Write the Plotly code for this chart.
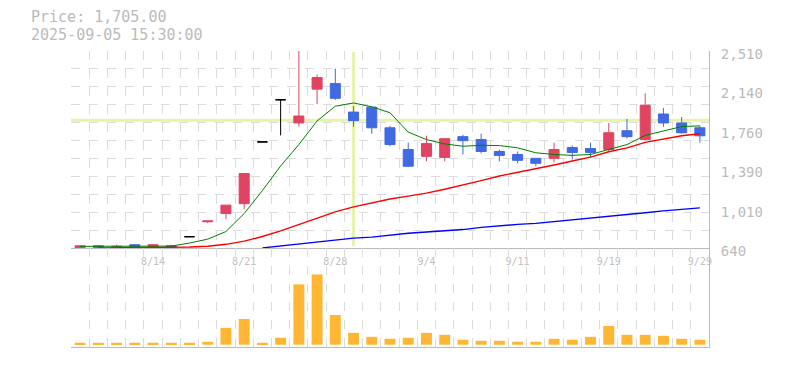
import plotly.graph_objects as go

# ---------------- data ----------------
dates = ["8/7", "8/8", "8/12", "8/13", "8/14", "8/15", "8/18", "8/19", "8/20", "8/21",
         "8/22", "8/25", "8/26", "8/27", "8/28", "8/29", "9/1", "9/2", "9/3", "9/4",
         "9/5", "9/8", "9/9", "9/10", "9/11", "9/12", "9/16", "9/17", "9/18", "9/19",
         "9/22", "9/24", "9/25", "9/26", "9/29"]
open_ = [643, 661, 646, 671, 652, 661, 747, 889, 967, 1061,
         1647, 2047, 1827, 2148, 2201, 1930, 1977, 1781, 1575, 1510,
         1500, 1697, 1669, 1556, 1528, 1491, 1491, 1594, 1584, 1575,
         1753, 1669, 1912, 1827, 1781]
high = [661, 663, 671, 673, 673, 671, 747, 897, 1047, 1347,
        1647, 2047, 2510, 2286, 2342, 1986, 1977, 1799, 1640, 1706,
        1678, 1715, 1725, 1575, 1556, 1491, 1640, 1612, 1640, 1827,
        1865, 2108, 1968, 1884, 1799]
low = [640, 641, 643, 650, 650, 641, 747, 878, 914, 1007,
       1647, 1709, 1793, 2005, 2045, 1790, 1725, 1606, 1407, 1463,
       1463, 1528, 1538, 1463, 1444, 1416, 1453, 1481, 1500, 1556,
       1678, 1659, 1790, 1725, 1640]
close = [661, 643, 656, 652, 671, 647, 747, 897, 1047, 1347,
         1647, 2047, 1893, 2258, 2061, 1849, 1781, 1622, 1416, 1631,
         1678, 1659, 1556, 1519, 1472, 1444, 1575, 1547, 1547, 1734,
         1697, 1996, 1827, 1734, 1705]
ma_short = [656, 655, 655, 657, 658, 658, 687, 724, 796, 967,
            1185, 1419, 1622, 1846, 1986, 2017, 1980, 1924, 1740, 1669,
            1628, 1606, 1615, 1612, 1591, 1544, 1528, 1519, 1528, 1575,
            1622, 1709, 1753, 1793, 1799]
ma_mid = [None, 640, 641, 643, 643, 646, 649, 656, 675, 705,
          749, 802, 864, 927, 983, 1030, 1067, 1105, 1133, 1161,
          1198, 1236, 1279, 1323, 1357, 1388, 1428, 1466, 1503, 1554,
          1591, 1643, 1675, 1706, 1725]
ma_long = [None, None, None, None, None, None, None, None, None, None,
           641, 659, 677, 693, 715, 734, 743, 762, 780, 792,
           805, 815, 836, 852, 864, 874, 890, 905, 923, 939,
           955, 974, 992, 1007, 1021]
volume = [20000, 20000, 20000, 20000, 20000, 20000, 20000, 30000, 170000, 260000,
          20000, 70000, 610000, 710000, 300000, 120000, 80000, 60000, 70000, 120000,
          100000, 50000, 40000, 40000, 30000, 30000, 60000, 50000, 80000, 190000,
          100000, 100000, 90000, 60000, 50000]

x_tick_idx = [4, 9, 14, 19, 24, 29, 34]
y_tick_vals = [640, 1014, 1388, 1762, 2136, 2510]
y_tick_text = ["640", "1,010", "1,390", "1,760", "2,140", "2,510"]
price_label = "Price: 1,705.00"
time_label = "2025-09-05 15:30:00"
cross_idx = 15
cross_price = 1853

# ---------------- figure ----------------
idx = list(range(len(dates)))
UP, DOWN = "#e04462", "#4169e1"
FONT = "DejaVu Sans Mono"

doji = [i for i in idx if open_[i] == close[i]]
norm = [i for i in idx if open_[i] != close[i]]

fig = go.Figure()

fig.add_trace(go.Bar(x=idx, y=volume, width=0.6, marker=dict(color="#ffb733", line=dict(width=0)),
                     xaxis="x2", yaxis="y2", hoverinfo="skip"))

fig.add_trace(go.Candlestick(
    x=[idx[i] for i in norm], open=[open_[i] for i in norm], high=[high[i] for i in norm],
    low=[low[i] for i in norm], close=[close[i] for i in norm],
    increasing=dict(line=dict(color=UP, width=1), fillcolor=UP),
    decreasing=dict(line=dict(color=DOWN, width=1), fillcolor=DOWN),
    whiskerwidth=0, xaxis="x", yaxis="y"))
fig.add_trace(go.Candlestick(
    x=[idx[i] for i in doji], open=[open_[i] for i in doji], high=[high[i] for i in doji],
    low=[low[i] for i in doji], close=[close[i] for i in doji],
    increasing=dict(line=dict(color="black", width=1), fillcolor="black"),
    decreasing=dict(line=dict(color="black", width=1), fillcolor="black"),
    whiskerwidth=0, xaxis="x", yaxis="y"))

fig.add_trace(go.Scatter(x=idx, y=ma_long, mode="lines", line=dict(color="#0000ff", width=1.4),
                         xaxis="x", yaxis="y", connectgaps=False))
fig.add_trace(go.Scatter(x=idx, y=ma_mid, mode="lines", line=dict(color="#ff0000", width=1.4),
                         xaxis="x", yaxis="y", connectgaps=False))
fig.add_trace(go.Scatter(x=idx, y=ma_short, mode="lines", line=dict(color="#008000", width=1),
                         xaxis="x", yaxis="y"))

grid_x = [i - 0.5 for i in range(len(dates) + 1)]
grid_y = [640 + 170 * k for k in range(12)]
xr = [-0.5, len(dates) - 0.5]
VOL_TOP = 100 / 299

common_x = dict(range=xr, showgrid=False, zeroline=False, fixedrange=True,
                minor=dict(tickmode="array", tickvals=grid_x, showgrid=True, griddash="dash",
                           gridcolor="#dcdcdc", gridwidth=1, ticks=""),
                showline=True, linecolor="#bbbbbb", linewidth=1)

fig.update_layout(
    width=777, height=362,
    margin=dict(l=63, r=76, t=43, b=20),
    paper_bgcolor="white", plot_bgcolor="white",
    showlegend=False, boxgap=0.45, boxgroupgap=0,
    xaxis=dict(domain=[0, 1], anchor="y", tickmode="array", tickvals=x_tick_idx,
               ticktext=[dates[i] for i in x_tick_idx], ticks="",
               tickfont=dict(family=FONT, size=10, color="#c0c0c0"),
               ticklabelstandoff=4, rangeslider=dict(visible=False), **common_x),
    xaxis2=dict(domain=[0, 1], anchor="y2", matches="x", showticklabels=False, ticks="",
                **common_x),
    yaxis=dict(domain=[VOL_TOP, 1], anchor="x", side="right", range=[640, 2510],
               tickmode="array", tickvals=y_tick_vals, ticktext=y_tick_text, ticks="",
               tickfont=dict(family=FONT, size=14, color="#bbbbbb"),
               ticklabelstandoff=8, ticklabelshift=3,
               showgrid=False, zeroline=False, showline=True, linecolor="#bbbbbb",
               minor=dict(tickmode="array", tickvals=grid_y, showgrid=True, griddash="dash",
                          gridcolor="#dcdcdc", gridwidth=1, ticks="")),
    yaxis2=dict(domain=[0, VOL_TOP], anchor="x2", side="right", range=[-23000, 977000],
                showticklabels=False, ticks="", showgrid=False, zeroline=False,
                showline=True, linecolor="#bbbbbb"),
    shapes=[
        dict(type="line", xref="x", yref="y domain", x0=cross_idx, x1=cross_idx, y0=0.01, y1=0.995,
             line=dict(color="#e6f4ab", width=3), layer="below"),
        dict(type="line", xref="x domain", yref="y", x0=0, x1=1, y0=cross_price, y1=cross_price,
             line=dict(color="#e6f4ab", width=3), layer="below"),
    ],
    annotations=[
        dict(text=price_label, xref="paper", yref="paper", x=-0.0654, y=1.115, xanchor="left",
             yanchor="middle", showarrow=False,
             font=dict(family=FONT, size=15, color="#bbbbbb")),
        dict(text=time_label, xref="paper", yref="paper", x=-0.0654, y=1.055, xanchor="left",
             yanchor="middle", showarrow=False,
             font=dict(family=FONT, size=15, color="#bbbbbb")),
    ],
)

fig.write_html("out.html")
